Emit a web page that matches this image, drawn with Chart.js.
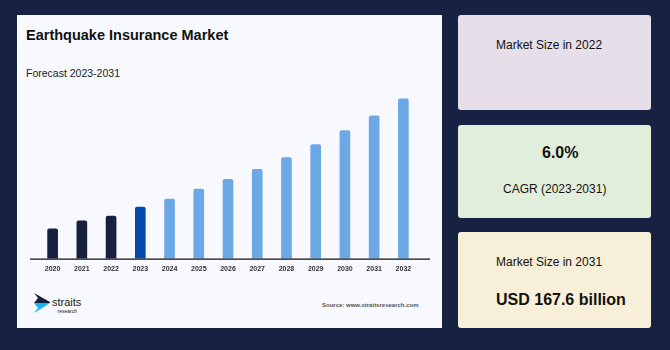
<!DOCTYPE html>
<html>
<head>
<meta charset="utf-8">
<script src="https://cdn.jsdelivr.net/npm/chart.js@4"></script>
<style>
  html, body { margin: 0; padding: 0; }
  body {
    width: 670px; height: 350px; background: #172142; position: relative; overflow: hidden;
    font-family: "Liberation Sans", Arial, sans-serif; color: #111;
  }
  .panel { position: absolute; left: 17px; top: 15px; width: 425px; height: 313px; background: #f8f9fe; }
  .card { position: absolute; left: 458px; width: 193px; border-radius: 3px; }
  .t { position: absolute; white-space: nowrap; line-height: 1; }
  #chartBox { position: absolute; left: 17px; top: 80px; width: 425px; height: 200px; }
</style>
</head>
<body>
<div class="panel"></div>
<div class="t" style="left:26px; top:28px; font-size:14.5px; font-weight:bold;">Earthquake Insurance Market</div>
<div class="t" style="left:26px; top:68px; font-size:10.5px; color:#222;">Forecast 2023-2031</div>

<div id="chartBox"><canvas id="market"></canvas></div>

<!-- 로고 -->
<svg style="position:absolute; left:33px; top:291px;" width="60" height="26" viewBox="0 0 60 26">
  <polygon points="1,2 17,11 17,12 1,12 5,7" fill="#16213f"/>
  <polygon points="1,12 17,12 1,22 5,17" fill="#13b6f0"/>
  <text x="19" y="15" font-family="Liberation Sans, Arial" font-size="11" fill="#222">straits</text>
  <text x="24.5" y="21.5" font-family="Liberation Sans, Arial" font-size="5" fill="#222">research</text>
</svg>
<div class="t" style="left:322px; top:302px; font-size:6px; font-weight:bold; color:#555;">Source: www.straitsresearch.com</div>

<!-- 오른쪽 카드 -->
<div class="card" style="top:15px; height:95px; background:#e6dfea;"></div>
<div class="t" style="left:496px; top:39px; font-size:12px;">Market Size in 2022</div>

<div class="card" style="top:125px; height:93px; background:#e2eedc;"></div>
<div class="t" style="left:542px; top:145px; font-size:16px; font-weight:bold;">6.0%</div>
<div class="t" style="left:503px; top:183px; font-size:12px;">CAGR (2023-2031)</div>

<div class="card" style="top:232px; height:96px; background:#f7efd7;"></div>
<div class="t" style="left:496px; top:256px; font-size:12px;">Market Size in 2031</div>
<div class="t" style="left:496px; top:292px; font-size:16px; font-weight:bold;">USD 167.6 billion</div>

<script>
// 연도별 시장 규모 (USD billion)
const years = ["2020", "2021", "2022", "2023", "2024", "2025", "2026", "2027", "2028", "2029", "2030", "2031", "2032"];
const marketSize = [34.9, 44.2, 50.0, 60.5, 69.8, 81.5, 93.1, 104.8, 118.7, 133.9, 150.2, 167.6, 187.4];
const barColors = [
  "#17203f", "#17203f", "#17203f", "#0349b0",
  "#6ca8e6", "#6ca8e6", "#6ca8e6", "#6ca8e6", "#6ca8e6",
  "#6ca8e6", "#6ca8e6", "#6ca8e6", "#6ca8e6",
];

// x축 기준선을 막대 영역보다 조금 넓게 그림
const baseLinePlugin = {
  id: "baseLine",
  afterDraw(chart) {
    const ctx = chart.ctx;
    const y = chart.chartArea.bottom + 0.5;
    ctx.save();
    ctx.strokeStyle = "#111";
    ctx.lineWidth = 1.3;
    ctx.beginPath();
    ctx.moveTo(13, y);
    ctx.lineTo(413, y);
    ctx.stroke();
    ctx.restore();
  },
};

new Chart(document.getElementById("market"), {
  type: "bar",
  data: {
    labels: years,
    datasets: [
      {
        data: marketSize,
        backgroundColor: barColors,
        barThickness: 10,
        borderRadius: { topLeft: 2, topRight: 2 },
        borderSkipped: "bottom",
      },
    ],
  },
  options: {
    responsive: true,
    maintainAspectRatio: false,
    animation: false,
    layout: { padding: { top: 15, left: 21, right: 24, bottom: 1 } },
    plugins: {
      legend: { display: false },
      tooltip: { enabled: false },
    },
    scales: {
      x: {
        grid: { display: false, drawTicks: false },
        border: { display: false },
        ticks: {
          color: "#333",
          padding: 6,
          maxRotation: 0,
          font: { family: "Liberation Sans", size: 7, weight: "bold" },
        },
      },
      y: {
        display: false,
        min: 0,
        max: 192,
      },
    },
  },
  plugins: [baseLinePlugin],
});
</script>
</body>
</html>
